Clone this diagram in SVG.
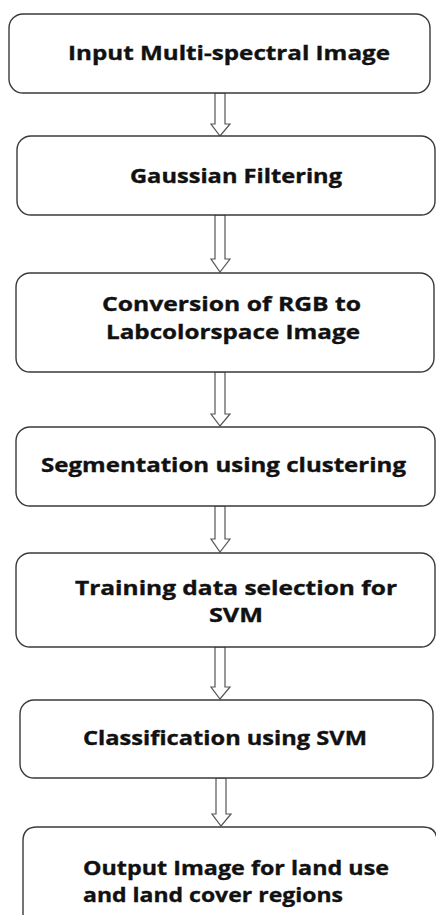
<svg xmlns="http://www.w3.org/2000/svg" width="436" height="915" viewBox="0 0 436 915">
<style>
.box{fill:#fff;stroke:#3a3a3a;stroke-width:1.4}
.arr{fill:#fff;stroke:#555;stroke-width:1.2;stroke-linejoin:miter}
text{font-family:"Open Sans","Liberation Sans",sans-serif;font-weight:bold;font-size:20px;fill:#111;stroke:#111;stroke-width:0.35}
</style>
<rect width="436" height="915" fill="#fff"/>
<g id="connectors">
<polygon class="arr" points="215,93 225,93 225,124 230,124 220,136 211,124 215,124"/>
<polygon class="arr" points="215,215 225,215 225,259 230,259 220,272 211,259 215,259"/>
<polygon class="arr" points="215,372 225,372 225,414 230,414 220,426 211,414 215,414"/>
<polygon class="arr" points="215,506 225,506 225,539 230,539 220,552 211,539 215,539"/>
<polygon class="arr" points="215,647 225,647 225,687 230,687 220,699 211,687 215,687"/>
<polygon class="arr" points="216,778 226,778 226,814 231,814 221,826 212,814 216,814"/>
</g>
<g id="n1">
<rect class="box" x="9" y="14" width="421" height="79" rx="14"/>
<text x="68" y="60" textLength="322" lengthAdjust="spacingAndGlyphs">Input Multi-spectral Image</text>
</g>
<g id="n2">
<rect class="box" x="17" y="136" width="418" height="79" rx="14"/>
<text x="130" y="183" textLength="212" lengthAdjust="spacingAndGlyphs">Gaussian Filtering</text>
</g>
<g id="n3">
<rect class="box" x="16" y="273" width="418" height="99" rx="14"/>
<text x="102" y="311" textLength="259" lengthAdjust="spacingAndGlyphs">Conversion of RGB to</text>
<text x="106" y="339" textLength="254" lengthAdjust="spacingAndGlyphs">Labcolorspace Image</text>
</g>
<g id="n4">
<rect class="box" x="16" y="427" width="419" height="79" rx="14"/>
<text x="41" y="472" textLength="365" lengthAdjust="spacingAndGlyphs">Segmentation using clustering</text>
</g>
<g id="n5">
<rect class="box" x="16" y="553" width="419" height="94" rx="14"/>
<text x="75" y="595" textLength="322" lengthAdjust="spacingAndGlyphs">Training data selection for</text>
<text x="209" y="622" textLength="54" lengthAdjust="spacingAndGlyphs">SVM</text>
</g>
<g id="n6">
<rect class="box" x="20" y="700" width="413" height="78" rx="14"/>
<text x="83" y="745" textLength="284" lengthAdjust="spacingAndGlyphs">Classification using SVM</text>
</g>
<g id="n7">
<path class="box" d="M23,916 L23,841 Q23,827 37,827 L423,827 Q437,827 437,841 L437,916"/>
<text x="83" y="875" textLength="306" lengthAdjust="spacingAndGlyphs">Output Image for land use</text>
<text x="83" y="902" textLength="260" lengthAdjust="spacingAndGlyphs">and land cover regions</text>
</g>
</svg>
